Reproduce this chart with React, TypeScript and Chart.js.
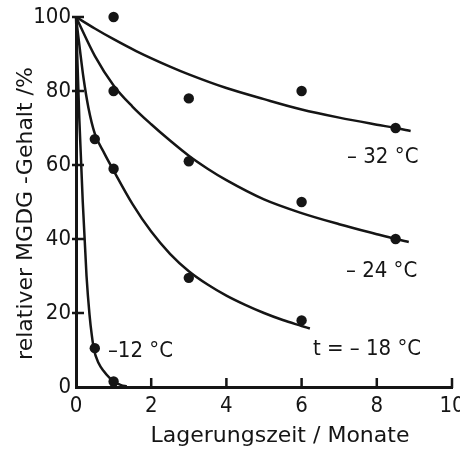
import React, { useEffect, useRef } from "react";
import { Chart, registerables } from "chart.js";

Chart.register(...registerables);

// ---------- data ----------
const xTickValues = [0, 2, 4, 6, 8, 10];
const yTickValues = [0, 20, 40, 60, 80, 100];

const xAxisTitle = "Lagerungszeit / Monate";
const yAxisTitle = "relativer MGDG -Gehalt /%";

// measured points
const months32 = [1, 3, 6, 8.5];
const content32 = [100, 78, 80, 70];
const months24 = [1, 3, 6, 8.5];
const content24 = [80, 61, 50, 40];
const months18 = [0.5, 1, 3, 6];
const content18 = [67, 59, 29.5, 18];
const months12 = [0.5, 1];
const content12 = [10.5, 1.5];

// drawn curves
const curveMonths32 = [0, 0.5, 1, 1.6, 2.5, 3, 4, 5, 6, 7, 8, 8.5, 8.9];
const curveContent32 = [100, 96.9, 94, 90.8, 86.6, 84.5, 80.8, 77.8, 75, 72.8, 70.9, 70, 69.2];
const curveMonths24 = [0, 0.5, 1, 1.5, 2, 2.5, 3, 3.5, 4, 5, 6, 7, 8, 8.5, 8.85];
const curveContent24 = [100, 89.5, 81.5, 75.8, 71, 66.6, 62.5, 59, 55.9, 50.7, 47, 44, 41.3, 40, 39.2];
const curveMonths18 = [0, 0.1, 0.2, 0.33, 0.5, 0.75, 1, 1.5, 2, 2.5, 3, 3.5, 4, 4.5, 5, 5.5, 6, 6.22];
const curveContent18 = [100, 91.5, 83.5, 75.5, 68.5, 63.2, 58.5, 49.5, 42, 36, 31.3, 27.7, 24.7, 22.2, 20, 18.1, 16.5, 15.8];
const curveMonths12 = [0, 0.09, 0.18, 0.28, 0.36, 0.42, 0.48, 0.6, 0.73, 0.9, 1.05, 1.2, 1.35];
const curveContent12 = [100, 72, 50, 30, 19.5, 14, 10, 6.5, 4.4, 2.4, 1.2, 0.5, 0.2];

const seriesLabels = ["– 32 °C", "– 24 °C", "t = – 18 °C", "–12 °C"];

// ---------- styling ----------
const INK = "#151515";
const TICK_FONT = "'DejaVu Sans Condensed', 'DejaVu Sans', sans-serif";
const TITLE_FONT = "'DejaVu Sans', sans-serif";

const toXY = (xs: number[], ys: number[]) => xs.map((x, i) => ({ x, y: ys[i] }));

// label anchors in data space (left edge, baseline)
const labelAnchors = [
  { x: 7.21, y: 60.5 },
  { x: 7.18, y: 29.7 },
  { x: 6.3, y: 8.6 },
  { x: 0.85, y: 8.1 },
];

const decorPlugin = {
  id: "decor",
  afterDraw(chart: any) {
    const ctx = chart.ctx as CanvasRenderingContext2D;
    const xs = chart.scales.x;
    const ys = chart.scales.y;
    const x0 = xs.getPixelForValue(0);
    const y0 = ys.getPixelForValue(0);
    ctx.save();
    ctx.strokeStyle = INK;
    ctx.fillStyle = INK;
    ctx.lineWidth = 2.5;
    ctx.lineCap = "butt";
    // inward tick marks
    ctx.beginPath();
    yTickValues.forEach((v) => {
      if (v === 0) return;
      const py = ys.getPixelForValue(v);
      ctx.moveTo(x0 - 4, py);
      ctx.lineTo(x0 + 8, py);
    });
    xTickValues.forEach((v) => {
      if (v === 0) return;
      const px = xs.getPixelForValue(v);
      ctx.moveTo(px, y0 + 1);
      ctx.lineTo(px, y0 - 9);
    });
    ctx.stroke();

    // series labels
    ctx.font = `22px ${TICK_FONT}`;
    ctx.textAlign = "left";
    ctx.textBaseline = "alphabetic";
    seriesLabels.forEach((t, i) => {
      const a = labelAnchors[i];
      ctx.fillText(t, xs.getPixelForValue(a.x), ys.getPixelForValue(a.y));
    });

    // axis titles
    ctx.font = `22px ${TITLE_FONT}`;
    ctx.textAlign = "center";
    ctx.fillText(xAxisTitle, 280, 442);
    ctx.translate(32, 213.5);
    ctx.rotate(-Math.PI / 2);
    ctx.fillText(yAxisTitle, 0, 0);
    ctx.restore();
  },
};

export default function App() {
  const ref = useRef<HTMLCanvasElement | null>(null);

  useEffect(() => {
    if (!ref.current) return;
    const curve = (xs: number[], ys: number[]) => ({
      type: "line" as const,
      data: toXY(xs, ys),
      showLine: true,
      borderColor: INK,
      borderWidth: 2.5,
      pointRadius: 0,
      fill: false,
      cubicInterpolationMode: "monotone" as const,
      clip: false as any,
    });
    const dots = (xs: number[], ys: number[]) => ({
      type: "scatter" as const,
      data: toXY(xs, ys),
      pointRadius: 5.2,
      pointBackgroundColor: INK,
      pointBorderWidth: 0,
      showLine: false,
      clip: false as any,
    });
    const chart = new Chart(ref.current, {
      type: "scatter",
      data: {
        datasets: [
          curve(curveMonths32, curveContent32),
          curve(curveMonths24, curveContent24),
          curve(curveMonths18, curveContent18),
          curve(curveMonths12, curveContent12),
          dots(months32, content32),
          dots(months24, content24),
          dots(months18, content18),
          dots(months12, content12),
        ] as any,
      },
      options: {
        animation: false,
        responsive: false,
        events: [],
        layout: { padding: { top: 17, right: 8, left: 0, bottom: 0 } },
        plugins: { legend: { display: false }, tooltip: { enabled: false } },
        scales: {
          x: {
            type: "linear",
            min: 0,
            max: 10,
            afterBuildTicks: (s: any) => {
              s.ticks = xTickValues.map((v) => ({ value: v }));
            },
            ticks: { color: INK, font: { family: TICK_FONT, size: 22 }, padding: 6, maxRotation: 0, autoSkip: false },
            grid: { display: false, drawTicks: false, tickLength: 0 },
            border: { display: true, color: INK, width: 3 },
            afterFit: (s: any) => {
              s.height = 64;
              s.paddingLeft = 0;
              s.paddingRight = 0;
            },
          },
          y: {
            type: "linear",
            min: 0,
            max: 100,
            afterBuildTicks: (s: any) => {
              s.ticks = yTickValues.map((v) => ({ value: v }));
            },
            ticks: { color: INK, font: { family: TICK_FONT, size: 22 }, padding: 5, autoSkip: false },
            grid: { display: false, drawTicks: false, tickLength: 0 },
            border: { display: true, color: INK, width: 3 },
            afterFit: (s: any) => {
              s.width = 76;
              s.paddingTop = 0;
              s.paddingBottom = 0;
            },
          },
        },
      },
      plugins: [decorPlugin],
    });
    return () => chart.destroy();
  }, []);

  return (
    <div style={{ position: "absolute", left: 0, top: 0, width: 460, height: 451, background: "#fff" }}>
      <canvas ref={ref} width={460} height={451} style={{ display: "block" }} />
    </div>
  );
}
